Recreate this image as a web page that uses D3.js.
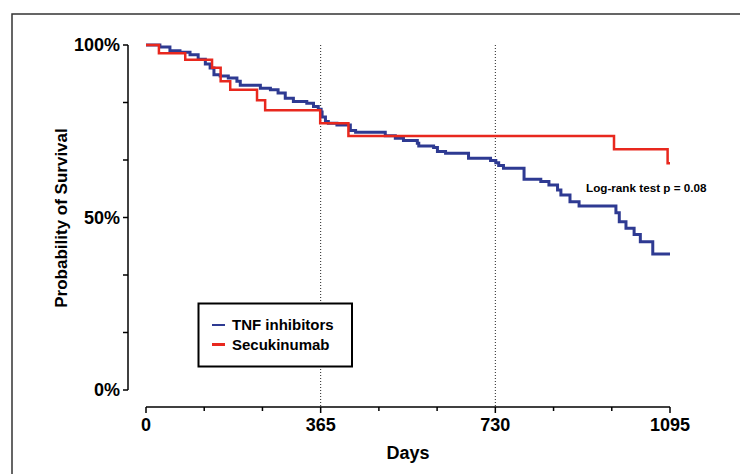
<!DOCTYPE html>
<html><head><meta charset="utf-8">
<script src="https://cdn.jsdelivr.net/npm/d3@7"></script>
<style>body{margin:0;background:#fff;}svg{display:block;font-family:"Liberation Sans",Arial,sans-serif;font-weight:bold;}</style>
</head><body><svg id="c" width="740" height="474"></svg>
<script>
// Kaplan-Meier step data (days, survival fraction)
const tnfDays = [0,29,50,71,92,109,124,134,142,155,172,190,197,239,260,276,291,308,336,350,360,366,368,375,381,399,427,438,500,521,538,567,570,601,609,626,674,720,731,737,747,790,825,842,860,867,886,905,982,989,1003,1020,1033,1059,1095];
const tnfSurv = [1.0,0.994,0.983,0.979,0.972,0.959,0.945,0.933,0.914,0.910,0.904,0.895,0.883,0.875,0.870,0.861,0.846,0.836,0.831,0.822,0.814,0.806,0.791,0.778,0.773,0.768,0.752,0.747,0.737,0.730,0.723,0.715,0.707,0.703,0.691,0.686,0.672,0.665,0.659,0.651,0.643,0.611,0.604,0.594,0.580,0.565,0.546,0.533,0.514,0.488,0.469,0.451,0.430,0.394,0.394];
const secDays = [0,27,82,138,156,176,232,249,364,423,978,1090,1095];
const secSurv = [1.0,0.976,0.957,0.934,0.895,0.870,0.840,0.811,0.773,0.736,0.698,0.657,0.657];
const xTickLabels = [0,365,730,1095];
const yTickLabels = [0,0.5,1];
const seriesNames = ["TNF inhibitors","Secukinumab"];
const seriesColors = ["#2e3a92","#e8281e"];
const pText = "Log-rank test p = 0.08";

const svg = d3.select("#c");
// outer frame
svg.append("rect").attr("x",12).attr("y",14).attr("width",740).attr("height",480)
  .attr("fill","none").attr("stroke","#333").attr("stroke-width",1.5);

const x = d3.scaleLinear().domain([0,1095]).range([146,670]);
const y = d3.scaleLinear().domain([0,1]).range([390,45]);

// x axis (offset below)
const xMinor = d3.range(0,10).map(i=>i*1095/9);
const xAx = svg.append("g").attr("transform","translate(0,407)");
xAx.append("line").attr("x1",x(0)).attr("x2",x(1095)).attr("stroke","#000").attr("stroke-width",1.5);
xAx.selectAll(".mt").data(xMinor).join("line")
  .attr("x1",d=>x(d)).attr("x2",d=>x(d)).attr("y1",0)
  .attr("y2",d=>xTickLabels.some(v=>Math.abs(v-d)<0.5)?6:4)
  .attr("stroke","#000").attr("stroke-width",1.5);
xAx.selectAll(".tl").data(xTickLabels).join("text")
  .attr("x",d=>x(d)).attr("y",24).attr("text-anchor","middle")
  .attr("font-size",18).text(d=>d);
svg.append("text").attr("x",x(547.5)).attr("y",459).attr("text-anchor","middle")
  .attr("font-size",18).text("Days");

// y axis
const yMinor = d3.range(0,7).map(i=>i/6);
const yAx = svg.append("g").attr("transform","translate(128,0)");
yAx.append("line").attr("y1",y(0)).attr("y2",y(1)).attr("stroke","#000").attr("stroke-width",1.5);
yAx.selectAll(".mt").data(yMinor).join("line")
  .attr("y1",d=>y(d)).attr("y2",d=>y(d)).attr("x1",0).attr("x2",-5)
  .attr("stroke","#000").attr("stroke-width",1.5);
yAx.selectAll(".tl").data(yTickLabels).join("text")
  .attr("x",-8).attr("y",d=>y(d)).attr("dy","0.36em").attr("text-anchor","end")
  .attr("font-size",18).text(d=>Math.round(d*100)+"%");
svg.append("text").attr("transform","translate(67,218) rotate(-90)")
  .attr("text-anchor","middle").attr("font-size",17).text("Probability of Survival");

// dotted reference lines
svg.selectAll(".ref").data([365,730]).join("line")
  .attr("x1",d=>x(d)).attr("x2",d=>x(d)).attr("y1",45).attr("y2",407)
  .attr("stroke","#222").attr("stroke-width",1).attr("stroke-dasharray","1,2");

// curves
const line = d3.line().curve(d3.curveStepAfter).x(d=>x(d[0])).y(d=>y(d[1]));
const tnf = tnfDays.map((d,i)=>[d,tnfSurv[i]]);
const sec = secDays.map((d,i)=>[d,secSurv[i]]);
svg.append("path").attr("d",line(tnf)).attr("fill","none").attr("stroke",seriesColors[0]).attr("stroke-width",3);
svg.append("path").attr("d",line(sec)).attr("fill","none").attr("stroke",seriesColors[1]).attr("stroke-width",2.5);

svg.append("text").attr("x",586).attr("y",192).attr("font-size",11.7).text(pText);

// legend
const lg = svg.append("g");
lg.append("rect").attr("x",198.5).attr("y",303.5).attr("width",153.5).attr("height",63)
  .attr("fill","#fff").attr("stroke","#000").attr("stroke-width",2);
seriesNames.forEach((n,i)=>{
  const yy = 325 + i*19.5;
  lg.append("line").attr("x1",212).attr("x2",225).attr("y1",yy).attr("y2",yy)
    .attr("stroke",seriesColors[i]).attr("stroke-width",i?3:2);
  lg.append("text").attr("x",232).attr("y",yy).attr("dy","0.36em").attr("font-size",15).text(n);
});
</script></body></html>
